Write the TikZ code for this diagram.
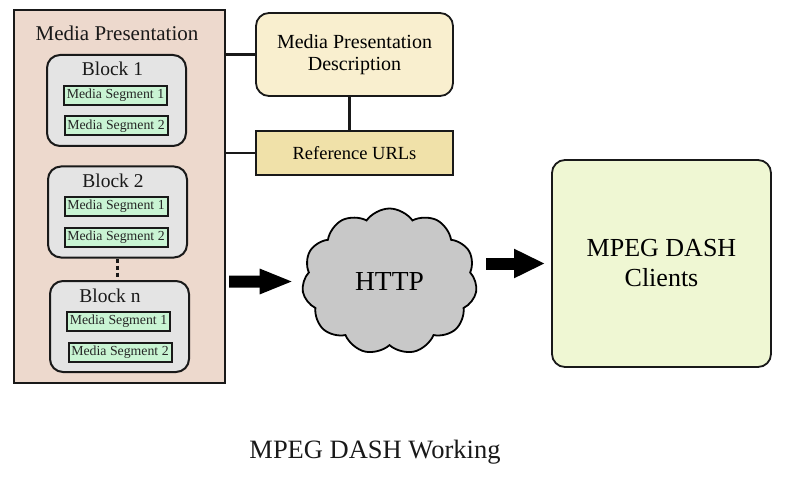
\documentclass[tikz,border=0pt]{standalone}
\usepackage{fontspec}
\setmainfont{Liberation Serif}
\usetikzlibrary{shapes.symbols,arrows.meta}
\definecolor{outerfill}{HTML}{EDD9CD}
\definecolor{blockfill}{HTML}{E4E4E4}
\definecolor{segfill}{HTML}{C9F4D3}
\definecolor{mpdfill}{HTML}{F9EFCF}
\definecolor{reffill}{HTML}{F0E1A9}
\definecolor{clientfill}{HTML}{EFF7D3}
\definecolor{cloudfill}{HTML}{C8C8C8}
\newcommand{\fs}[1]{\fontsize{#1}{#1}\selectfont}
\tikzset{
  outerbox/.style={draw=black!90, line width=2.2pt, fill=outerfill, inner sep=0pt, minimum width=211pt, minimum height=373pt},
  blockbox/.style={draw=black!90, line width=2pt, fill=blockfill, rounded corners=13pt, inner sep=0pt, minimum width=139pt, minimum height=91pt},
  segbox/.style={draw=black!90, line width=2pt, fill=segfill, inner sep=0pt, minimum width=103pt, minimum height=19pt, font=\fs{13.8}, text=black!85},
  lbl/.style={inner sep=0pt, font=\fs{19.5}, text=black!90},
  mpdbox/.style={draw=black!90, line width=1.8pt, fill=mpdfill, rounded corners=13pt, inner sep=0pt, minimum width=197pt, minimum height=83pt, align=center, font=\fontsize{20}{22}\selectfont},
  refbox/.style={draw=black!90, line width=1.8pt, fill=reffill, inner sep=0pt, minimum width=197pt, minimum height=44pt, font=\fs{18.5}},
  clientbox/.style={draw=black!90, line width=1.8pt, fill=clientfill, rounded corners=13pt, inner sep=0pt, minimum width=219pt, minimum height=207pt, align=center, font=\fontsize{26}{30}\selectfont},
  cloudnode/.style={cloud, cloud puffs=11, cloud puff arc=110, aspect=1.2, draw=black, line width=1.8pt, fill=cloudfill, minimum width=175pt, minimum height=146pt, inner sep=0pt, font=\fs{27.5}},
  conn/.style={line width=2.2pt, draw=black!90},
  bigarrow/.style={line width=12pt, -{Triangle[length=34pt,width=23pt]}},
}
\begin{document}
\begin{tikzpicture}[x=1pt,y=-1pt]
\useasboundingbox[fill=white] (0,0) rectangle (786,481);
% left container
\node[outerbox] (outer) at (119.5,196.5) {};
\node[lbl, font=\fs{21}] (title) at (117,33) {Media Presentation};
% Block 1
\node[blockbox] (b1) at (116.5,100.5) {};
\node[lbl] (b1l) at (112.5,69) {Block 1};
\node[segbox] (b1s1) at (115.5,95.5) {Media Segment 1};
\node[segbox] (b1s2) at (116,126) {Media Segment 2};
% Block 2
\node[blockbox] (b2) at (117.5,212) {};
\node[lbl] (b2l) at (113,181) {Block 2};
\node[segbox] (b2s1) at (116,206.5) {Media Segment 1};
\node[segbox] (b2s2) at (116,237.5) {Media Segment 2};
% Block n
\node[blockbox] (bn) at (119.5,326.5) {};
\node[lbl] (bnl) at (110,296) {Block n};
\node[segbox] (bns1) at (118.5,321.5) {Media Segment 1};
\node[segbox] (bns2) at (120,352.5) {Media Segment 2};
\draw[conn, dash pattern=on 4pt off 3pt] (b2.south) -- (b2.south |- bn.north);
% MPD and URLs
\node[mpdbox] (mpd) at (354.5,54.5) {Media Presentation\\Description};
\node[refbox] (ref) at (354.5,153) {Reference URLs};
\draw[conn] (mpd.west) -- (mpd.west -| outer.east);
\draw[conn] (ref.west) -- (ref.west -| outer.east);
\draw[conn] ([xshift=-5pt]mpd.south) -- ([xshift=-5pt]mpd.south |- ref.north);
% cloud
\node[cloudnode] (http) at (389.5,281.5) {HTTP};
% clients
\node[clientbox] (client) at (661.5,263.5) {MPEG DASH\\Clients};
% arrows
\draw[bigarrow, shorten <=3pt, shorten >=9pt] (outer.east |- http) -- (http.west);
\draw[bigarrow, -{Triangle[length=31pt,width=27pt]}, shorten <=10pt, shorten >=6pt] (http.east |- client) -- (client.west);
% caption
\node[lbl, font=\fs{26.5}] (cap) at (375,452) {MPEG DASH Working};
\end{tikzpicture}
\end{document}
